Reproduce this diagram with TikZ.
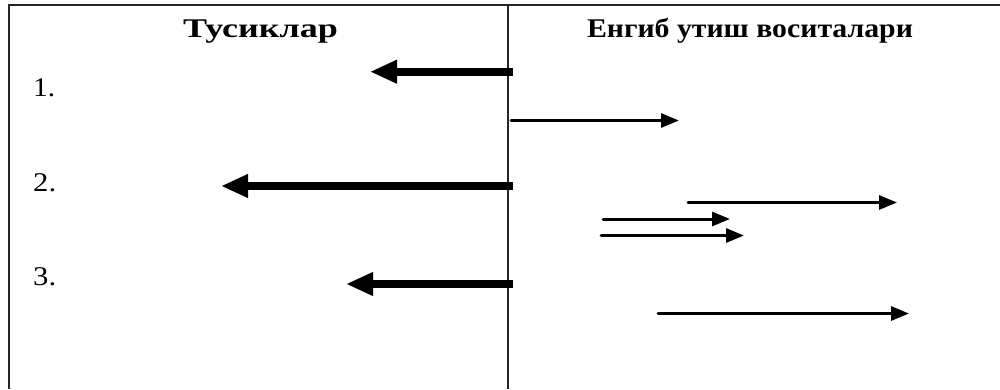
\documentclass[tikz,border=0pt]{standalone}
\usepackage{fontspec}
\setmainfont{Liberation Serif}
\usetikzlibrary{arrows.meta}
\tikzset{
  frame/.style={line width=2pt, draw=black!85},
  thickarrow/.style={line width=8pt, -{Triangle[length=27pt,width=22pt]}},
  thinarrow/.style={line width=3pt, line cap=round, -{Triangle[length=18pt,width=14pt]}},
  heading/.style={anchor=base, inner sep=0pt, font=\fontsize{27}{32}\selectfont\bfseries},
  numlabel/.style={anchor=base west, inner sep=0pt, font=\fontsize{27}{32}\selectfont}
}
\begin{document}
\begin{tikzpicture}[x=1pt, y=-1pt]
\useasboundingbox (0,0) rectangle (1000,389);
% frame
\draw[frame] (9,389) -- (9,5) -- (1000,5);
\draw[frame] (508,5) -- (508,389);
% headings
\node[heading] (h1) at (260.5,37) {\resizebox{155pt}{\height}{Тусиклар}};
\node[heading] (h2) at (750,37) {\resizebox{326pt}{\height}{Енгиб утиш воситалари}};
% numbers
\node[numlabel] (n1) at (33,96) {\resizebox{22pt}{\height}{1.}};
\node[numlabel] (n2) at (33,191) {\resizebox{23pt}{\height}{2.}};
\node[numlabel] (n3) at (33,285) {\resizebox{23pt}{\height}{3.}};
% thick arrows (left)
\coordinate (t1s) at (513,71.7);  \coordinate (t1e) at (370,71.7);
\coordinate (t2s) at (513,186);   \coordinate (t2e) at (221,186);
\coordinate (t3s) at (513,284);   \coordinate (t3e) at (346,284);
\draw[thickarrow] (t1s) -- (t1e);
\draw[thickarrow] (t2s) -- (t2e);
\draw[thickarrow] (t3s) -- (t3e);
% thin arrows (right)
\coordinate (a1s) at (511,120.5); \coordinate (a1e) at (679,120.5);
\coordinate (a2s) at (688,202.5); \coordinate (a2e) at (897,202.5);
\coordinate (a3s) at (603,219);   \coordinate (a3e) at (730,219);
\coordinate (a4s) at (601,235.5); \coordinate (a4e) at (744,235.5);
\coordinate (a5s) at (658,313.5); \coordinate (a5e) at (909,313.5);
\draw[thinarrow] (a1s) -- (a1e);
\draw[thinarrow] (a2s) -- (a2e);
\draw[thinarrow] (a3s) -- (a3e);
\draw[thinarrow] (a4s) -- (a4e);
\draw[thinarrow] (a5s) -- (a5e);
\end{tikzpicture}
\end{document}
